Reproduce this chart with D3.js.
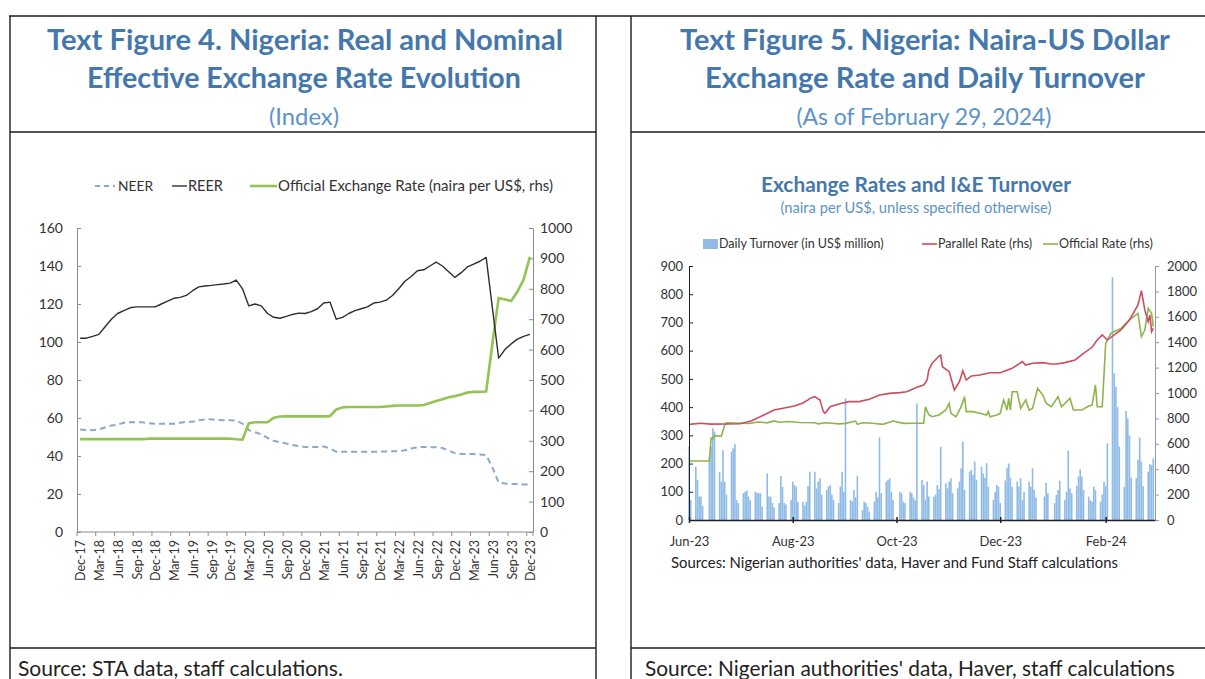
<!DOCTYPE html>
<html><head><meta charset="utf-8">
<script src="https://cdn.jsdelivr.net/npm/d3@7"></script>
<style>
html,body{margin:0;padding:0;background:#fff;}
svg{display:block;font-family:Lato,"Open Sans","Noto Sans",sans-serif;}
</style>
</head><body>
<svg id="c" width="1205" height="679"></svg>
<script>
// ---------- Figure 4: monthly effective exchange rates, Dec-17 .. Dec-23 ----------
const monthStart = new Date(2017, 11, 1);
const monthEnd = new Date(2024, 0, 1);
const leftTicksLeft = [0, 20, 40, 60, 80, 100, 120, 140, 160];
const leftTicksRight = [0, 100, 200, 300, 400, 500, 600, 700, 800, 900, 1000];

const neer = [54, 53.7, 53.6, 54, 55, 56, 56.5, 57.5, 57.8, 57.8, 57.7, 57.3,
  57, 57, 57, 57, 57.5, 58, 58, 58.8, 59.3, 59.3, 59, 58.8,
  58.8, 58.6, 57, 53.6, 52.5, 51.5, 49.5, 48, 47.2, 46.6, 45.8, 45.2,
  44.8, 44.8, 44.8, 45, 44, 42.3, 42.3, 42.3, 42.3, 42.3, 42.3, 42.3,
  42.3, 42.4, 42.5, 42.5, 43, 44, 44.6, 44.8, 44.6, 44.6, 44.2, 42.8,
  41.5, 41, 41, 41, 40.8, 40.5, 34, 26, 25.5, 25.3, 25.2, 25, 25];

const reer = [102, 102, 103, 104, 108, 112, 115, 116.5, 118, 118.5, 118.5, 118.5,
  118.5, 120, 121.5, 123, 123.5, 124.5, 127, 129, 129.5, 129.8, 130.2, 130.5,
  131, 132.6, 128, 119, 120, 119, 115, 113, 112.5, 113.5, 114.5, 115.2,
  115, 116, 117.5, 120.5, 121, 112, 113, 115, 116.5, 117.5, 118.5, 120.5,
  121, 122, 124.5, 128, 132, 134.5, 137.5, 138, 140, 142, 140, 137,
  134, 136.5, 139.5, 141, 142.5, 144.5, 118, 91.5, 96, 99, 101.5, 103, 104];

const officialMonthly = [305.5, 305.5, 305.5, 305.5, 305.5, 305.5, 305.5, 305.5, 305.5, 305.5, 305.5, 307,
  307, 307, 307, 307, 307, 307, 307, 307, 307, 307, 307, 307,
  307, 305, 304, 358, 361, 361, 361, 376, 380, 380.5, 380.5, 380.5,
  380.5, 380.5, 380.5, 380.5, 381, 403, 410, 411, 411, 411, 411, 411,
  411, 413, 415, 416, 416, 416, 416, 418, 424, 431, 437, 443,
  447, 452, 459, 461, 461, 462, 620, 770, 765, 760, 790, 830, 905];

// ---------- Figure 5: daily naira-US dollar rates and turnover, Jun-23 .. Feb-24 ----------
const dailyStart = new Date(2023, 5, 1);
const dailyEnd = new Date(2024, 2, 1);
const rightTicksLeft = [0, 100, 200, 300, 400, 500, 600, 700, 800, 900];
const rightTicksRight = [0, 200, 400, 600, 800, 1000, 1200, 1400, 1600, 1800, 2000];
const dateTicks = ["2023-06-01", "2023-08-01", "2023-10-01", "2023-12-01", "2024-02-01"];

// Turnover for each weekday (Mon-Fri) from 1 Jun 2023 to 29 Feb 2024; null = no trading
const turnover = [
  260, 71,
  189, 142, 83, 83, 50,
  null, 224, 260, 325, 313,
  171, 136, 248, 136, 90,
  242, 254, 269, 71, 60,
  95, 100, 104, 83, 70,
  100, 96, 95, 95, 47,
  165, 83, 83, 60, 45,
  60, 156, 118, 60, 55,
  71, 136, 124, 118, 65,
  65, 50, 65, 120, 171,
  171, 112, 136, 148, 90,
  106, 118, 124, 90, 71,
  60, 118, 171, 100, 431,
  71, 65, 106, 80, 156,
  35, 65, 60, 47, 30,
  65, 100, 80, 293, 95,
  136, 142, 148, 100, 70,
  null, 100, 95, 65, 60,
  100, 95, 80, 70, 413,
  142, 124, 71, 136, 83,
  83, 90, 124, 110, 260,
  130, 112, 136, 148, 95,
  112, 136, 183, 278, 106,
  171, 177, 160, 207, 142,
  189, 165, 150, 201, 118,
  71, 100, 124, 118, 60,
  140, 185, 200, 150, 118,
  136, 118, 148, 71, 100,
  136, 118, 183, 106, 80,
  null, null, 83, 132, 95,
  null, 60, 89, 106, 139,
  71, 100, 246, 112, 95,
  120, 154, 180, 154, 106,
  83, 70, 65, 118, 106,
  65, 90, 136, 120, 272,
  860, 520, 472, 400, 260,
  118, 386, 360, 300, 150,
  148, 213, 292, 207, 120,
  171, 198, 195, 218
];

const parallelDates = ["2023-06-01", "2023-06-08", "2023-06-14", "2023-07-01", "2023-07-08", "2023-07-15",
  "2023-07-21", "2023-07-27", "2023-08-02", "2023-08-07", "2023-08-10", "2023-08-11", "2023-08-14",
  "2023-08-17", "2023-08-19", "2023-08-20", "2023-08-23", "2023-08-28", "2023-09-03", "2023-09-09",
  "2023-09-15", "2023-09-21", "2023-09-27", "2023-10-03", "2023-10-07", "2023-10-13", "2023-10-17",
  "2023-10-19", "2023-10-20", "2023-10-22", "2023-10-26", "2023-10-27", "2023-10-28", "2023-11-01",
  "2023-11-04", "2023-11-07", "2023-11-09", "2023-11-11", "2023-11-14", "2023-11-19", "2023-11-25",
  "2023-12-01", "2023-12-08", "2023-12-14", "2023-12-16", "2023-12-20", "2023-12-26", "2023-12-31",
  "2024-01-03", "2024-01-08", "2024-01-14", "2024-01-19", "2024-01-24", "2024-01-27", "2024-01-30",
  "2024-02-02", "2024-02-06", "2024-02-10", "2024-02-15", "2024-02-20", "2024-02-22", "2024-02-24",
  "2024-02-26", "2024-02-27", "2024-02-28", "2024-02-29"];
const parallelRate = [753, 762, 755, 758, 782, 827,
  866, 882, 898, 921, 945, 958, 971,
  945, 853, 840, 892, 913, 932, 932,
  950, 984, 997, 1003, 1010, 1045, 1063,
  1102, 1181, 1234, 1291, 1299, 1207, 1168,
  1024, 1089, 1176, 1102, 1134, 1142, 1160,
  1160, 1194, 1247, 1220, 1234, 1239, 1228,
  1228, 1239, 1260, 1312, 1360, 1417, 1457,
  1417, 1457, 1496, 1575, 1693, 1806, 1654,
  1562, 1614, 1483, 1509];

const officialDates = ["2023-06-01", "2023-06-13", "2023-06-14", "2023-06-15", "2023-06-16", "2023-06-20",
  "2023-06-22", "2023-06-23", "2023-07-06", "2023-07-12", "2023-07-17", "2023-07-21", "2023-07-24",
  "2023-07-30", "2023-08-05", "2023-08-14", "2023-08-16", "2023-08-20", "2023-08-24", "2023-08-28",
  "2023-09-01", "2023-09-07", "2023-09-08", "2023-09-11", "2023-09-17", "2023-09-23", "2023-09-29",
  "2023-10-05", "2023-10-11", "2023-10-17", "2023-10-18", "2023-10-20", "2023-10-22", "2023-10-26",
  "2023-10-30", "2023-11-01", "2023-11-02", "2023-11-05", "2023-11-08", "2023-11-10", "2023-11-11",
  "2023-11-15", "2023-11-19", "2023-11-23", "2023-11-24", "2023-11-25", "2023-11-29", "2023-12-01",
  "2023-12-03", "2023-12-05", "2023-12-06", "2023-12-07", "2023-12-08", "2023-12-11", "2023-12-13",
  "2023-12-16", "2023-12-18", "2023-12-20", "2023-12-23", "2023-12-26", "2023-12-28", "2023-12-31",
  "2024-01-04", "2024-01-06", "2024-01-11", "2024-01-13", "2024-01-18", "2024-01-22", "2024-01-24",
  "2024-01-26", "2024-01-27", "2024-01-30", "2024-02-01", "2024-02-04", "2024-02-10", "2024-02-15",
  "2024-02-20", "2024-02-22", "2024-02-24", "2024-02-26", "2024-02-28", "2024-02-29"];
const officialRate = [465, 465, 645, 640, 664, 660,
  748, 766, 760, 772, 765, 780, 770,
  775, 768, 766, 757, 766, 762, 757,
  761, 779, 753, 766, 762, 753, 779,
  761, 762, 762, 892, 829, 813, 827,
  866, 919, 840, 813, 892, 971, 853,
  853, 840, 827, 853, 813, 827, 840,
  945, 866, 958, 866, 1010, 1010, 879,
  945, 866, 879, 1037, 984, 919, 892,
  971, 892, 958, 866, 866, 898, 905,
  1063, 892, 892, 1391, 1470, 1509, 1575,
  1627, 1443, 1496, 1667, 1627, 1522];

// ---------- drawing ----------
const svg = d3.select("#c");
const TITLE_BLUE = "#4478ad";
const SUB_BLUE = "#5b93c9";
const INK = "#333";
const plain = d3.format("d");

svg.append("rect").attr("width", 1205).attr("height", 679).attr("fill", "#fff");

function fit(t, w) {
  const fs = parseFloat(t.attr("font-size"));
  const len = t.node().getComputedTextLength();
  if (len > 0) t.attr("font-size", (fs * w / len).toFixed(2));
  return t;
}
function label(g, x, y, txt, opts) {
  const t = g.append("text").attr("x", x).attr("y", y).text(txt)
    .attr("font-size", opts.size || 14)
    .attr("fill", opts.fill || INK)
    .attr("font-weight", opts.weight || "normal")
    .attr("text-anchor", opts.anchor || "start");
  if (opts.width) fit(t, opts.width);
  return t;
}

// frames
const frame = svg.append("g").attr("stroke", "#1c1c1c").attr("stroke-width", 1.4).attr("fill", "none");
frame.append("path").attr("d", "M9,16H1205");
[10, 596, 631].forEach(x => frame.append("line").attr("x1", x).attr("x2", x).attr("y1", 16).attr("y2", 679));
[[10, 596], [631, 1205]].forEach(([a, b]) => {
  frame.append("line").attr("x1", a).attr("x2", b).attr("y1", 132).attr("y2", 132);
  frame.append("line").attr("x1", a).attr("x2", b).attr("y1", 648).attr("y2", 648);
});

// headings
const head = svg.append("g");
label(head, 305, 50, "Text Figure 4. Nigeria: Real and Nominal", {size: 25, weight: "bold", fill: TITLE_BLUE, anchor: "middle", width: 516});
label(head, 304, 88, "Effective Exchange Rate Evolution", {size: 25, weight: "bold", fill: TITLE_BLUE, anchor: "middle", width: 434});
label(head, 304, 125, "(Index)", {size: 19, fill: SUB_BLUE, anchor: "middle", width: 70});
label(head, 925, 50, "Text Figure 5. Nigeria: Naira-US Dollar", {size: 25, weight: "bold", fill: TITLE_BLUE, anchor: "middle", width: 490});
label(head, 925, 88, "Exchange Rate and Daily Turnover", {size: 25, weight: "bold", fill: TITLE_BLUE, anchor: "middle", width: 440});
label(head, 924, 125, "(As of February 29, 2024)", {size: 19, fill: SUB_BLUE, anchor: "middle", width: 255});
label(head, 18, 676, "Source: STA data, staff calculations.", {size: 17, fill: "#222", width: 325});
label(head, 645, 676, "Source: Nigerian authorities' data, Haver, staff calculations", {size: 17, fill: "#222", width: 530});

// ===== Figure 4 =====
const f4 = svg.append("g");
const months = d3.timeMonth.range(monthStart, monthEnd);
const x4 = d3.scaleBand().domain(months.map((d, i) => i)).range([77, 533]).paddingInner(0).paddingOuter(0);
const cx4 = i => x4(i) + x4.bandwidth() / 2;
const yL = d3.scaleLinear().domain([0, 160]).range([532, 228]);
const yR = d3.scaleLinear().domain([0, 1000]).range([532, 228]);
const AXIS_GREY = "#8c8c8c";

const axL = f4.append("g").attr("transform", "translate(77,0)")
  .call(d3.axisLeft(yL).tickValues(leftTicksLeft).tickFormat(plain).tickSize(-4).tickSizeOuter(0).tickPadding(14));
const axR = f4.append("g").attr("transform", "translate(533,0)")
  .call(d3.axisRight(yR).tickValues(leftTicksRight).tickFormat(plain).tickSize(-4).tickSizeOuter(0).tickPadding(7));
[axL, axR].forEach(a => {
  a.selectAll("path,line").attr("stroke", AXIS_GREY);
  a.selectAll("text").attr("font-size", 14).attr("fill", INK).attr("font-family", "Lato, sans-serif");
});

// category axis
f4.append("line").attr("x1", 77).attr("x2", 533).attr("y1", 532).attr("y2", 532).attr("stroke", AXIS_GREY);
const fmtM = d3.timeFormat("%b-%y");
months.forEach((d, i) => {
  if (i % 3 === 0) {
    f4.append("line").attr("x1", x4(i)).attr("x2", x4(i)).attr("y1", 532).attr("y2", 536).attr("stroke", AXIS_GREY);
    f4.append("text").attr("transform", `translate(${cx4(i) + 1},540) rotate(-90)`)
      .attr("text-anchor", "end").attr("dy", "0.35em").attr("font-size", 12.5).attr("fill", INK)
      .text(fmtM(d));
  }
});
f4.append("line").attr("x1", 533).attr("x2", 533).attr("y1", 532).attr("y2", 536).attr("stroke", AXIS_GREY);

const lineL = d3.line().x((d, i) => cx4(i)).y(d => yL(d));
const lineR = d3.line().x((d, i) => cx4(i)).y(d => yR(d));
f4.append("path").attr("d", lineL(neer)).attr("fill", "none").attr("stroke", "#8ea8c6")
  .attr("stroke-width", 2).attr("stroke-dasharray", "6,4");
f4.append("path").attr("d", lineR(officialMonthly)).attr("fill", "none").attr("stroke", "#92c453")
  .attr("stroke-width", 2.6).attr("stroke-linejoin", "round");
f4.append("path").attr("d", lineL(reer)).attr("fill", "none").attr("stroke", "#2e2e2e")
  .attr("stroke-width", 1.4).attr("stroke-linejoin", "round");

// legend
const lg4 = f4.append("g");
lg4.append("line").attr("x1", 95).attr("x2", 115).attr("y1", 186).attr("y2", 186)
  .attr("stroke", "#8ea8c6").attr("stroke-width", 2).attr("stroke-dasharray", "5,4");
label(lg4, 118, 191, "NEER", {size: 13, width: 35});
lg4.append("line").attr("x1", 172).attr("x2", 187).attr("y1", 186).attr("y2", 186).attr("stroke", "#2e2e2e").attr("stroke-width", 1.4);
label(lg4, 188, 191, "REER", {size: 13, width: 35});
lg4.append("line").attr("x1", 250).attr("x2", 277).attr("y1", 186).attr("y2", 186).attr("stroke", "#92c453").attr("stroke-width", 2.6);
label(lg4, 278, 191, "Official Exchange Rate (naira per US$, rhs)", {size: 13, width: 275});

// ===== Figure 5 =====
const f5 = svg.append("g");
const parse = d3.timeParse("%Y-%m-%d");
const x5 = d3.scaleTime().domain([dailyStart, dailyEnd]).range([689, 1155]);
const yT = d3.scaleLinear().domain([0, 900]).range([520, 266]);
const yRate = d3.scaleLinear().domain([0, 2000]).range([520, 266]);

label(f5, 916, 192, "Exchange Rates and I&E Turnover", {size: 17, weight: "bold", fill: TITLE_BLUE, anchor: "middle", width: 310});
label(f5, 916, 213, "(naira per US$, unless specified otherwise)", {size: 12, fill: SUB_BLUE, anchor: "middle", width: 271});

// bars
const weekdays = d3.timeDay.range(dailyStart, dailyEnd).filter(d => d.getDay() !== 0 && d.getDay() !== 6);
const barData = weekdays.map((d, i) => ({d, v: turnover[i]})).filter(o => o.v != null);
f5.append("g").selectAll("rect").data(barData).join("rect")
  .attr("x", o => x5(o.d) - 0.8).attr("width", 1.6)
  .attr("y", o => yT(o.v)).attr("height", o => yT(0) - yT(o.v))
  .attr("fill", "#8fbbe6");

// rate lines
const rateLine = d3.line().x(d => x5(d[0])).y(d => yRate(d[1]));
const officialPts = officialDates.map((s, i) => [parse(s), officialRate[i]]);
const parallelPts = parallelDates.map((s, i) => [parse(s), parallelRate[i]]);
f5.append("path").attr("d", rateLine(officialPts)).attr("fill", "none").attr("stroke", "#8db54b").attr("stroke-width", 1.6);
f5.append("path").attr("d", rateLine(parallelPts)).attr("fill", "none").attr("stroke", "#c94f5e").attr("stroke-width", 1.6);

// axes
const ax5L = f5.append("g").attr("transform", "translate(689,0)")
  .call(d3.axisLeft(yT).tickValues(rightTicksLeft).tickFormat(plain).tickSize(-4).tickSizeOuter(0).tickPadding(6));
ax5L.selectAll("path,line").attr("stroke", "#222");
const ax5R = f5.append("g").attr("transform", "translate(1155,0)")
  .call(d3.axisRight(yRate).tickValues(rightTicksRight).tickFormat(plain).tickSize(4).tickSizeOuter(0).tickPadding(8));
ax5R.selectAll("path,line").attr("stroke", "#9a9a9a");
[ax5L, ax5R].forEach(a => a.selectAll("text").attr("font-size", 13).attr("fill", INK).attr("font-family", "Lato, sans-serif"));

const ax5B = f5.append("g").attr("transform", "translate(0,520)")
  .call(d3.axisBottom(x5).tickValues(dateTicks.map(parse)).tickFormat(d3.timeFormat("%b-%y")).tickSize(3).tickSizeOuter(0).tickPadding(14));
ax5B.select(".domain").attr("stroke", "#222").attr("stroke-width", 1.3);
ax5B.selectAll(".tick line").attr("stroke", "#222").attr("y1", -3).attr("stroke-width", 1.5);
ax5B.selectAll("text").attr("font-size", 13).attr("fill", INK).attr("font-family", "Lato, sans-serif");

label(f5, 671, 568, "Sources: Nigerian authorities' data, Haver and Fund Staff calculations", {size: 13, fill: "#222", width: 447});

// legend (one common type size)
const lg5 = f5.append("g");
lg5.append("rect").attr("x", 703).attr("y", 239).attr("width", 15).attr("height", 10).attr("fill", "#8fbbe6");
label(lg5, 719, 248, "Daily Turnover (in US$ million)", {size: 12.5});
lg5.append("line").attr("x1", 922).attr("x2", 937).attr("y1", 244).attr("y2", 244).attr("stroke", "#c94f5e").attr("stroke-width", 1.6);
label(lg5, 938, 248, "Parallel Rate (rhs)", {size: 12.5});
lg5.append("line").attr("x1", 1043).attr("x2", 1058).attr("y1", 244).attr("y2", 244).attr("stroke", "#8db54b").attr("stroke-width", 1.6);
label(lg5, 1059, 248, "Official Rate (rhs)", {size: 12.5});
</script>
</body></html>
